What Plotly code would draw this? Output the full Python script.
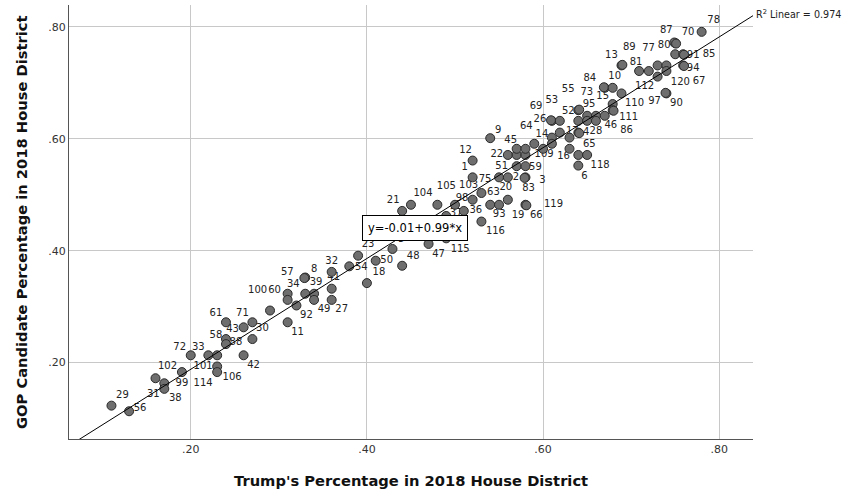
import plotly.graph_objects as go
import numpy as np

# ---- data ----
district = ["29","56","102","31","38","99","72","33","101","106","114","61","58","88","43","71","30","42","",
            "60","100","11","92","8","57","34","39","49","32","41","27","54","23","18","50","5","48","47","115",
            "21","104","105","98","36","37","103","63","93","19","20","119","66","12","1","75","2","3","83",
            "51","59","22","","","45","","9","64","14","109","","","26","69","53","52","55","","95","","",
            "28","46","15","111","86","73","84","10","110","13","89","81","","77","","120","112","80","87",
            "70","","91","85","94","67","78","90","97","","16","17","4","65","118","6","116"]
trump_pct = [0.110,0.130,0.160,0.170,0.170,0.190,0.200,0.220,0.230,0.230,0.230,0.240,0.240,0.240,0.260,0.270,0.270,0.260,0.290,
             0.310,0.310,0.310,0.320,0.330,0.329,0.330,0.340,0.340,0.360,0.360,0.360,0.380,0.390,0.400,0.410,0.429,0.440,0.470,0.490,
             0.440,0.450,0.480,0.500,0.510,0.490,0.520,0.530,0.540,0.550,0.560,0.580,0.581,0.520,0.520,0.550,0.560,0.580,0.579,
             0.570,0.580,0.560,0.570,0.580,0.570,0.580,0.540,0.590,0.610,0.600,0.610,0.619,0.610,0.609,0.619,0.640,0.641,0.640,0.650,0.650,0.660,
             0.660,0.670,0.679,0.679,0.680,0.670,0.669,0.679,0.689,0.689,0.690,0.709,0.720,0.730,0.740,0.740,0.730,0.750,0.749,
             0.751,0.750,0.759,0.760,0.759,0.760,0.780,0.740,0.739,0.630,0.630,0.640,0.641,0.640,0.650,0.640,0.530]
gop_pct = [0.123,0.113,0.172,0.163,0.153,0.183,0.213,0.213,0.213,0.193,0.183,0.272,0.242,0.233,0.263,0.272,0.242,0.213,0.293,
           0.323,0.312,0.272,0.302,0.352,0.351,0.323,0.323,0.312,0.362,0.332,0.312,0.372,0.391,0.342,0.382,0.403,0.373,0.412,0.422,
           0.471,0.482,0.482,0.482,0.471,0.462,0.491,0.503,0.482,0.482,0.491,0.482,0.481,0.561,0.531,0.531,0.531,0.531,0.530,
           0.551,0.551,0.571,0.571,0.571,0.582,0.582,0.601,0.591,0.602,0.582,0.591,0.611,0.632,0.633,0.632,0.651,0.652,0.632,0.641,0.632,0.641,
           0.632,0.641,0.662,0.651,0.650,0.691,0.692,0.691,0.681,0.731,0.732,0.721,0.721,0.731,0.731,0.721,0.711,0.771,0.772,
           0.770,0.751,0.751,0.750,0.731,0.730,0.791,0.681,0.682,0.602,0.582,0.611,0.610,0.571,0.571,0.552,0.452]

# label offsets from each point, in screen pixels (style, not data)
label_dx = [11,11,12,-11,11,0,-11,-10,-14,15,-14,-10,-10,10,-11,-10,10,10,0,
            -13,-30,10,10,9,-17,-12,2,10,0,2,10,12,10,12,11,9,11,10,14,
            -9,12,9,7,12,10,-4,12,9,19,-2,28,10,-7,-8,-14,8,17,4,
            -15,10,-11,0,0,-6,0,8,-8,-10,1,0,0,-12,-15,-8,-10,-11,0,2,0,0,
            0,6,-10,16,13,-18,-14,2,13,-10,7,-3,0,-9,0,14,-13,-11,-8,
            12,0,10,25,10,15,12,10,-11,0,-6,-6,7,11,13,6,14]
label_dy = [-10,-3,-12,11,10,11,-8,-8,11,11,11,-9,-4,-2,2,-9,-11,10,0,
            -3,-9,10,10,-8,-6,-9,-11,10,-10,-11,10,1,-11,-11,0,-9,-9,11,11,
            -10,-11,-18,-6,0,-2,-14,-1,10,11,-12,0,10,-10,-10,2,0,3,11,
            0,1,0,0,0,-8,0,-8,-17,-3,6,0,0,-1,-14,-20,1,-20,0,-11,0,0,
            11,10,-8,7,20,5,-9,-11,10,-10,-17,-9,0,-17,0,11,10,2,-12,
            -11,0,1,0,3,16,-11,10,9,0,8,-1,-1,-10,11,11,10]

x_ticks = [0.2, 0.4, 0.6, 0.8]
x_tick_text = [".20", ".40", ".60", ".80"]
y_ticks = [0.2, 0.4, 0.6, 0.8]
y_tick_text = [".20", ".40", ".60", ".80"]

fit_intercept = -0.01
fit_slope = 0.99
equation_text = "y=-0.01+0.99*x"
r2_text = "R<sup>2</sup> Linear = 0.974"

# ---- layout geometry ----
W, H = 851, 501
ml, mr, mt, mb = 69, 98, 5, 62
xr = [0.0618, 0.8383]
yr = [0.0634, 0.839]
ux = (xr[1] - xr[0]) / (W - ml - mr)
uy = (yr[1] - yr[0]) / (H - mt - mb)

tx = np.array(trump_pct)
gy = np.array(gop_pct)
lab_x = tx + np.array(label_dx) * ux
lab_y = gy - np.array(label_dy) * uy
has_label = [i for i, d in enumerate(district) if d]

fig = go.Figure()
fig.add_trace(go.Scatter(x=lab_x[has_label], y=lab_y[has_label], mode="text",
                         text=[district[i] for i in has_label],
                         textposition="middle center",
                         textfont=dict(family="DejaVu Sans", size=10, color="#222"),
                         hoverinfo="skip", showlegend=False, cliponaxis=False))
fig.add_trace(go.Scatter(x=tx, y=gy, mode="markers",
                         marker=dict(size=9, color="#6e6e6e", line=dict(color="#2a2a2a", width=1)),
                         showlegend=False))
line_x = np.array(xr)
fig.add_trace(go.Scatter(x=line_x, y=fit_intercept + fit_slope * line_x, mode="lines",
                         line=dict(color="black", width=1), showlegend=False, hoverinfo="skip"))

eq_x = 0.455
fig.add_annotation(x=eq_x, y=fit_intercept + fit_slope * eq_x, text=equation_text, showarrow=False,
                   font=dict(family="DejaVu Sans", size=11.5, color="black"),
                   bgcolor="white", bordercolor="black", borderwidth=1, borderpad=5)
fig.add_annotation(x=xr[1], y=fit_intercept + fit_slope * xr[1], text=r2_text, showarrow=False,
                   xanchor="left", yanchor="middle", xshift=1, yshift=2,
                   font=dict(family="DejaVu Sans", size=9.6, color="#222"))
fig.add_annotation(xref="paper", yref="paper", x=0.5, y=0, yshift=-41, yanchor="middle",
                   text="Trump's Percentage in 2018 House District", showarrow=False,
                   font=dict(family="DejaVu Sans", size=14.7, color="#111", weight="bold"))
fig.add_annotation(xref="paper", yref="paper", x=0, y=0.5, xshift=-48, xanchor="center",
                   text="GOP Candidate Percentage in 2018 House District", showarrow=False, textangle=-90,
                   font=dict(family="DejaVu Sans", size=14.7, color="#111", weight="bold"))

fig.update_layout(width=W, height=H, margin=dict(l=ml, r=mr, t=mt, b=mb),
                  paper_bgcolor="white", plot_bgcolor="white")
fig.update_xaxes(range=xr, tickvals=x_ticks, ticktext=x_tick_text, showgrid=True, gridcolor="#c8c8c8",
                 gridwidth=1, zeroline=False, showline=True, linecolor="#555", linewidth=1, ticks="",
                 tickfont=dict(family="DejaVu Sans", size=11, color="#333"))
fig.update_yaxes(range=yr, tickvals=y_ticks, ticktext=y_tick_text, showgrid=True, gridcolor="#c8c8c8",
                 gridwidth=1, zeroline=False, showline=True, linecolor="#555", linewidth=1, ticks="",
                 tickfont=dict(family="DejaVu Sans", size=11, color="#333"))

fig.write_html("out.html", config={"displayModeBar": False},
               post_script="document.body.style.margin='0';document.body.style.overflow='hidden';")
